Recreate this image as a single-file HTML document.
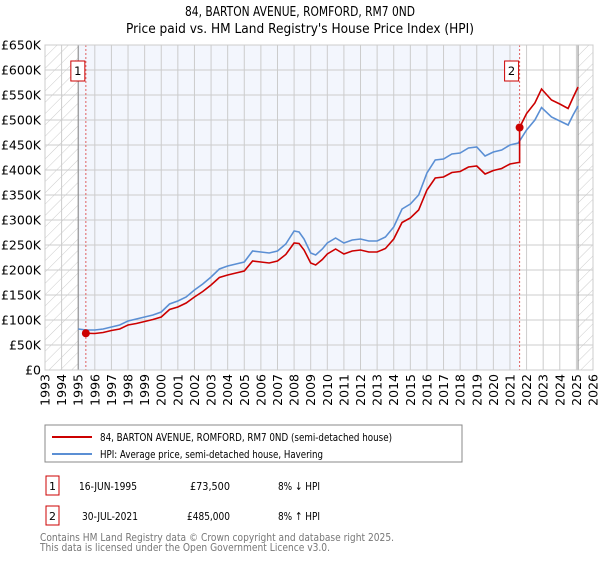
<!DOCTYPE html>
<html><head><meta charset="utf-8"><style>
body{margin:0;background:#fff;font-family:"Liberation Sans","DejaVu Sans",sans-serif;}
svg text{font-family:"DejaVu Sans","Liberation Sans",sans-serif;}
</style></head><body>
<svg id="c" width="600" height="560" xmlns="http://www.w3.org/2000/svg">
<defs><pattern id="hatch" width="8" height="8" patternUnits="userSpaceOnUse" patternTransform="rotate(45)"><line x1="0" y1="0" x2="0" y2="8" stroke="#ccc" stroke-width="1"/></pattern></defs>
<text x="300" y="16" text-anchor="middle" font-size="13" textLength="230" lengthAdjust="spacingAndGlyphs">84, BARTON AVENUE, ROMFORD, RM7 0ND</text>
<text x="300" y="33" text-anchor="middle" font-size="13" textLength="348" lengthAdjust="spacingAndGlyphs">Price paid vs. HM Land Registry's House Price Index (HPI)</text>
<g id="plot"></g>
<rect x="45" y="425" width="417" height="37" fill="#fff" stroke="#888"/>
<line x1="52" y1="437" x2="92" y2="437" stroke="#cc0000" stroke-width="2"/>
<text x="100" y="441" font-size="11" textLength="292" lengthAdjust="spacingAndGlyphs">84, BARTON AVENUE, ROMFORD, RM7 0ND (semi-detached house)</text>
<line x1="52" y1="454" x2="92" y2="454" stroke="#5b8fd4" stroke-width="2"/>
<text x="100" y="458" font-size="11" textLength="223" lengthAdjust="spacingAndGlyphs">HPI: Average price, semi-detached house, Havering</text>
<g font-size="11">
<rect x="46" y="476" width="13" height="19" fill="#fff" stroke="#cc0000"/><text x="52.5" y="490" text-anchor="middle">1</text>
<text x="79" y="490" textLength="58" lengthAdjust="spacingAndGlyphs">16-JUN-1995</text><text x="230" y="490" text-anchor="end" textLength="40" lengthAdjust="spacingAndGlyphs">£73,500</text><text x="278" y="490" textLength="42" lengthAdjust="spacingAndGlyphs">8% ↓ HPI</text></g>
<g font-size="11">
<rect x="46" y="506" width="13" height="19" fill="#fff" stroke="#cc0000"/><text x="52.5" y="520" text-anchor="middle">2</text>
<text x="82" y="520" textLength="56" lengthAdjust="spacingAndGlyphs">30-JUL-2021</text><text x="230" y="520" text-anchor="end" textLength="43" lengthAdjust="spacingAndGlyphs">£485,000</text><text x="278" y="520" textLength="42" lengthAdjust="spacingAndGlyphs">8% ↑ HPI</text></g>
<text x="40" y="541" font-size="11" fill="#777" textLength="354" lengthAdjust="spacingAndGlyphs">Contains HM Land Registry data © Crown copyright and database right 2025.</text>
<text x="40" y="551" font-size="11" fill="#777" textLength="290" lengthAdjust="spacingAndGlyphs">This data is licensed under the Open Government Licence v3.0.</text>
</svg>
<script>
const hpiYears=[1995.0,1995.5,1996,1996.5,1997,1997.5,1998,1998.5,1999,1999.5,2000,2000.5,2001,2001.5,2002,2002.5,2003,2003.5,2004,2004.5,2005,2005.5,2006,2006.5,2007,2007.5,2008,2008.3,2008.6,2009,2009.3,2009.7,2010,2010.5,2011,2011.5,2012,2012.5,2013,2013.5,2014,2014.5,2015,2015.5,2016,2016.5,2017,2017.5,2018,2018.5,2019,2019.5,2020,2020.5,2021,2021.5,2022,2022.5,2022.9,2023.5,2024,2024.5,2024.8,2025.1];
const hpiVals=[82,80,80,82,86,90,98,102,106,110,116,132,138,146,160,172,186,202,208,212,216,238,236,234,238,252,278,276,262,234,230,242,254,264,254,260,262,258,258,266,286,322,332,350,394,420,422,432,434,444,446,428,436,440,450,454,480,500,525,506,498,490,510,528];
const redYears=[1995.46,1996,1996.5,1997,1997.5,1998,1998.5,1999,1999.5,2000,2000.5,2001,2001.5,2002,2002.5,2003,2003.5,2004,2004.5,2005,2005.5,2006,2006.5,2007,2007.5,2008,2008.3,2008.6,2009,2009.3,2009.7,2010,2010.5,2011,2011.5,2012,2012.5,2013,2013.5,2014,2014.5,2015,2015.5,2016,2016.5,2017,2017.5,2018,2018.5,2019,2019.5,2020,2020.5,2021,2021.5,2021.58,2021.58,2022,2022.5,2022.9,2023.5,2024,2024.5,2024.8,2025.1];
const redVals=[73.5,73,75,79,82,90,93,97,101,106,121,126,134,146,157,170,185,190,194,198,218,216,214,218,231,254,253,240,214,210,221,232,242,232,238,240,236,236,243,262,295,304,320,360,384,386,395,397,406,408,392,399,403,412,415,415,485,513,534,562,540,532,523,545,566];
const sales=[{id:"1",year:1995.46,val:73.5},{id:"2",year:2021.58,val:485}];
const yTicks=[0,50,100,150,200,250,300,350,400,450,500,550,600,650];
const xTicks=[1993,1994,1995,1996,1997,1998,1999,2000,2001,2002,2003,2004,2005,2006,2007,2008,2009,2010,2011,2012,2013,2014,2015,2016,2017,2018,2019,2020,2021,2022,2023,2024,2025,2026];
const X0=45,X1=593,Y0=370,Y1=45;
const xs=y=>X0+(y-1993)/(2026-1993)*(X1-X0);
const ys=v=>Y0-v/650*(Y0-Y1);
const NS="http://www.w3.org/2000/svg",g=document.getElementById('plot');
function mk(t,a,p){const e=document.createElementNS(NS,t);for(const k in a)e.setAttribute(k,a[k]);(p||g).appendChild(e);return e;}
let e;
e=mk('rect',{x:X0,y:Y1,width:X1-X0,height:Y0-Y1,fill:'#fff'});

e=mk('rect',{x:xs(1995),y:Y1,width:xs(2021.58)-xs(1995),height:Y0-Y1,fill:'#f3f6fd'});

e=mk('rect',{x:X0,y:Y1,width:xs(1995)-X0,height:Y0-Y1,fill:'url(#hatch)'});

e=mk('rect',{x:xs(2025.1),y:Y1,width:X1-xs(2025.1),height:Y0-Y1,fill:'url(#hatch)'});

yTicks.forEach(v=>{
 e=mk('line',{x1:X0,x2:X1,y1:ys(v),y2:ys(v),stroke:'#ccc'});
 
 e=mk('text',{x:41,y:ys(v)+4.5,'text-anchor':'end','font-size':'12.5'});e.textContent=v===0?'£0':'£'+v+'K';
 
});
xTicks.forEach(t=>{
 e=mk('line',{x1:xs(t),x2:xs(t),y1:Y1,y2:Y0,stroke:'#ccc'});
 
 e=mk('text',{x:0,y:0,'font-size':'12.5','text-anchor':'end',transform:`translate(${xs(t)+4.5},374) rotate(-90)`});e.textContent=t;
 
});
e=mk('line',{x1:xs(1995),x2:xs(1995),y1:Y1,y2:Y0,stroke:'#888'});

e=mk('line',{x1:xs(2025.1),x2:xs(2025.1),y1:Y1,y2:Y0,stroke:'#888'});

sales.forEach(s=>{
 e=mk('line',{x1:xs(s.year),x2:xs(s.year),y1:Y1,y2:Y0,stroke:'#e06060','stroke-dasharray':'2,2'});
 
});
e=mk('polyline',{points:hpiYears.map((y,i)=>xs(y)+','+ys(hpiVals[i])).join(' '),fill:'none',stroke:'#5b8fd4','stroke-width':1.6});

e=mk('polyline',{points:redYears.map((y,i)=>xs(y)+','+ys(redVals[i])).join(' '),fill:'none',stroke:'#cc0000','stroke-width':1.6});

sales.forEach(s=>{
 e=mk('circle',{cx:xs(s.year),cy:ys(s.val),r:4,fill:'#cc0000'});
 
 const bx=xs(s.year)-15;
 e=mk('rect',{x:bx,y:61,width:14,height:20,fill:'#fff',stroke:'#cc0000'});
 
 e=mk('text',{x:bx+7,y:75,'text-anchor':'middle','font-size':'11.5'});e.textContent=s.id;
 
});
e=mk('rect',{x:X0,y:Y1,width:X1-X0,height:Y0-Y1,fill:'none',stroke:'#ccc'});

</script>
</body></html>
